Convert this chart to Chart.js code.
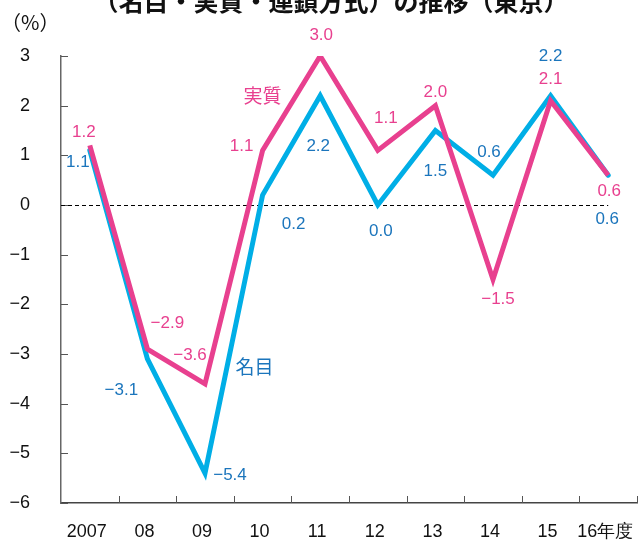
<!DOCTYPE html>
<html>
<head>
<meta charset="utf-8">
<script src="https://cdn.jsdelivr.net/npm/chart.js@4"></script>
<style>
  body { margin: 0; background: #fff; }
  #wrap { width: 643px; height: 541px; position: relative; }
</style>
</head>
<body>
<div id="wrap"><canvas id="myChart"></canvas></div>
<script>
// data
var years = ['2007', '08', '09', '10', '11', '12', '13', '14', '15', '16年度'];
var real = [1.2, -2.9, -3.6, 1.1, 3.0, 1.1, 2.0, -1.5, 2.1, 0.6];     // 実質
var nominal = [1.1, -3.1, -5.4, 0.2, 2.2, 0.0, 1.5, 0.6, 2.2, 0.6];  // 名目
var yTicks = [3, 2, 1, 0, -1, -2, -3, -4, -5, -6];

var PINK = '#e8408f';
var CYAN = '#00aee6';
var BLUE_TXT = '#1b75bc';
var NUM_FONT = '"Liberation Sans", Arial, sans-serif';
var JP_FONT = '"Noto Sans CJK JP", sans-serif';

// where each value label sits, relative to its point (px)
var realOff = [[-6,-13],[20,-26],[-15,-28],[-21,-4],[1,-21],[8,-32],[0,-13],[5,20],[0,-21],[1,16]];
var nomOff = [[-12,12],[-26,31],[25,2],[31,29],[-2,51],[3,26],[0,41],[-4,-23],[0,-39],[-1,44]];

function fmt(v) {
  var s = Math.abs(v).toFixed(1);
  return v < 0 ? '\u2212' + s : s;
}

var extras = {
  id: 'extras',
  beforeDatasetsDraw(chart) {
    var ctx = chart.ctx, xs = chart.scales.x, ys = chart.scales.y, a = chart.chartArea;
    ctx.save();
    // y ticks, pointing inward
    ctx.strokeStyle = '#555';
    ctx.lineWidth = 1;
    yTicks.forEach(function (t) {
      var y = Math.round(ys.getPixelForValue(t)) + 0.5;
      ctx.beginPath(); ctx.moveTo(a.left, y); ctx.lineTo(a.left + 7, y); ctx.stroke();
    });
    // x ticks between categories
    var half = (xs.getPixelForValue(1) - xs.getPixelForValue(0)) / 2;
    for (var i = 0; i < years.length; i++) {
      var x = Math.round(xs.getPixelForValue(i) + half) + 0.5;
      ctx.beginPath(); ctx.moveTo(x, a.bottom); ctx.lineTo(x, a.bottom - 7); ctx.stroke();
    }
    // dashed zero line
    var y0 = Math.round(ys.getPixelForValue(0)) + 0.5;
    ctx.strokeStyle = '#000';
    ctx.setLineDash([4, 3]);
    ctx.beginPath(); ctx.moveTo(a.left, y0); ctx.lineTo(xs.getPixelForValue(years.length - 1), y0); ctx.stroke();
    ctx.restore();
  },
  afterDatasetsDraw(chart) {
    var ctx = chart.ctx, xs = chart.scales.x, ys = chart.scales.y;
    ctx.save();
    ctx.textAlign = 'center';
    ctx.textBaseline = 'middle';
    ctx.font = '17px ' + NUM_FONT;
    ctx.fillStyle = PINK;
    real.forEach(function (v, i) {
      ctx.fillText(fmt(v), xs.getPixelForValue(i) + realOff[i][0], ys.getPixelForValue(v) + realOff[i][1]);
    });
    ctx.fillStyle = BLUE_TXT;
    nominal.forEach(function (v, i) {
      ctx.fillText(fmt(v), xs.getPixelForValue(i) + nomOff[i][0], ys.getPixelForValue(v) + nomOff[i][1]);
    });
    // series names
    ctx.font = '19px ' + JP_FONT;
    ctx.fillStyle = PINK;
    ctx.fillText('実質', xs.getPixelForValue(3), ys.getPixelForValue(2.2));
    ctx.fillStyle = BLUE_TXT;
    ctx.fillText('名目', xs.getPixelForValue(3) - 8, ys.getPixelForValue(-3.25));
    // title (cropped at the top) and unit
    ctx.fillStyle = '#111';
    ctx.font = 'bold 25px ' + JP_FONT;
    ctx.textBaseline = 'alphabetic';
    ctx.fillText('（名目・実質・連鎖方式）の推移（東京）', 331, 11);
    ctx.font = '20px ' + JP_FONT;
    ctx.textAlign = 'left';
    ctx.textBaseline = 'middle';
    ctx.fillText('（%）', 1, 22);
    ctx.restore();
  }
};

var chart = new Chart(document.getElementById('myChart'), {
  type: 'line',
  data: {
    labels: years,
    datasets: [
      { label: '実質', data: real, borderColor: PINK, borderWidth: 5, pointRadius: 0, tension: 0, borderJoinStyle: 'miter', borderCapStyle: 'butt' },
      { label: '名目', data: nominal, borderColor: CYAN, borderWidth: 5, pointRadius: 0, tension: 0, borderJoinStyle: 'miter', borderCapStyle: 'round' }
    ]
  },
  options: {
    responsive: true,
    maintainAspectRatio: false,
    animation: false,
    layout: { padding: { top: 56, right: 6, left: 0, bottom: 0 } },
    plugins: { legend: { display: false }, tooltip: { enabled: false } },
    scales: {
      x: {
        offset: true,
        grid: { display: false, drawTicks: false },
        border: { display: true, color: '#444', width: 1.5 },
        ticks: { color: '#111', font: { size: 18, family: NUM_FONT }, padding: 18, labelOffset: -3, maxRotation: 0, autoSkip: false },
        afterFit: function (s) { s.height = 38; s.paddingLeft = 0; s.paddingRight = 0; }
      },
      y: {
        min: -6, max: 3,
        grid: { display: false, drawTicks: false },
        border: { display: true, color: '#666', width: 1.5 },
        ticks: {
          stepSize: 1, color: '#111', font: { size: 18, family: NUM_FONT }, padding: 31,
          callback: function (v) { return v < 0 ? '\u2212' + Math.abs(v) : String(v); }
        },
        afterFit: function (s) { s.width = 61; s.paddingTop = 0; s.paddingBottom = 0; }
      }
    }
  },
  plugins: [extras]
});
</script>
</body>
</html>
